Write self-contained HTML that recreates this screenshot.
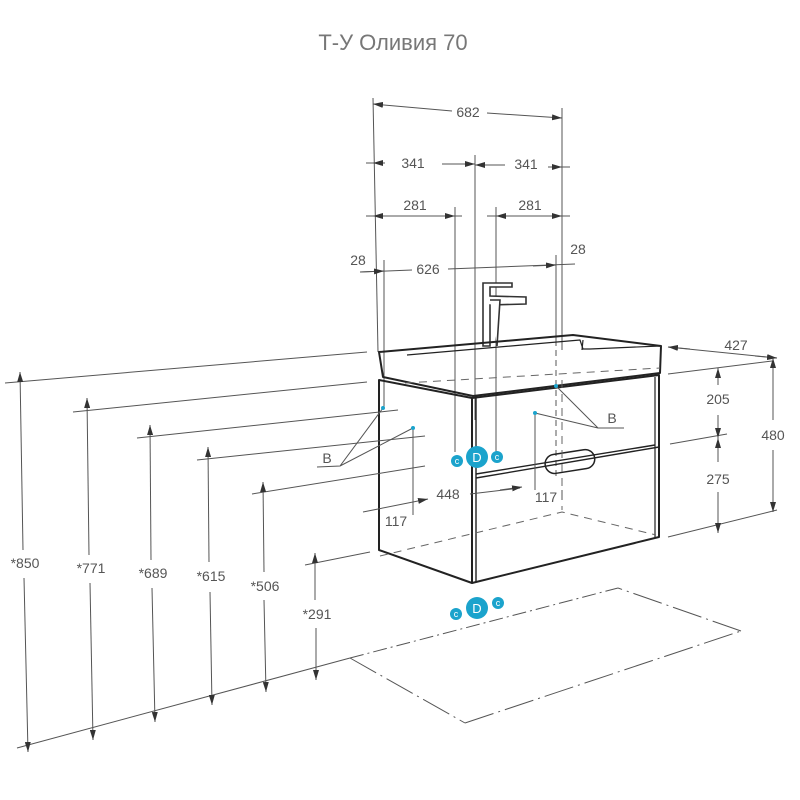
<!DOCTYPE html>
<html><head><meta charset="utf-8"><style>
html,body{margin:0;padding:0;background:#fff}
svg{display:block}
text{font-family:"Liberation Sans",sans-serif;fill:#555;font-size:14px;text-anchor:middle}
</style></head><body>
<svg width="800" height="800" viewBox="0 0 800 800" xmlns="http://www.w3.org/2000/svg">
<defs>
<marker id="a" viewBox="0 0 10 6" refX="10" refY="3" markerWidth="10" markerHeight="6" orient="auto-start-reverse" markerUnits="userSpaceOnUse"><path d="M0,0L10,3L0,6z" fill="#333"/></marker>
</defs>
<text x="393" y="50" style="font-size:22px;fill:#777">Т-У Оливия 70</text>

<g stroke="#555" stroke-width="1" fill="none">
<line x1="373" y1="98" x2="378" y2="352"/>
<line x1="562" y1="108" x2="562" y2="350"/>
<line x1="475" y1="155" x2="475" y2="420"/>
<line x1="455" y1="207" x2="455" y2="452"/>
<line x1="496" y1="207" x2="496" y2="452"/>
<line x1="384" y1="260" x2="384" y2="408"/>
<line x1="556" y1="255" x2="556" y2="340"/>
<line x1="556" y1="340" x2="556" y2="480" stroke-dasharray="6,4"/>
<line x1="373" y1="104" x2="452" y2="111" marker-start="url(#a)"/>
<line x1="487" y1="113" x2="562" y2="118" marker-end="url(#a)"/>
<line x1="366" y1="163" x2="385" y2="163"/>
<line x1="373" y1="163" x2="385" y2="163" marker-start="url(#a)"/>
<line x1="442" y1="164" x2="475" y2="164" marker-end="url(#a)"/>
<line x1="475" y1="165" x2="505" y2="165" marker-start="url(#a)"/>
<line x1="548" y1="167" x2="570" y2="167"/>
<line x1="548" y1="167" x2="562" y2="167" marker-end="url(#a)"/>
<line x1="366" y1="216" x2="462" y2="216"/>
<line x1="373" y1="216" x2="395" y2="216" marker-start="url(#a)"/>
<line x1="430" y1="216" x2="455" y2="216" marker-end="url(#a)"/>
<line x1="487" y1="216" x2="570" y2="216"/>
<line x1="496" y1="216" x2="515" y2="216" marker-start="url(#a)"/>
<line x1="540" y1="216" x2="562" y2="216" marker-end="url(#a)"/>
<line x1="360" y1="272" x2="412" y2="270"/>
<line x1="360" y1="272" x2="384" y2="271" marker-end="url(#a)"/>
<line x1="448" y1="269" x2="575" y2="264"/>
<line x1="533" y1="266" x2="556" y2="265" marker-end="url(#a)"/>
</g>
<text x="468" y="117">682</text>
<text x="413" y="168">341</text>
<text x="526" y="169">341</text>
<text x="415" y="210">281</text>
<text x="530" y="210">281</text>
<text x="358" y="265">28</text>
<text x="428" y="274">626</text>
<text x="578" y="254">28</text>

<g stroke="#333" stroke-width="1.6" fill="#fff">
<path d="M483,346 L483,283 L512,283 L512,287 L490,287 L490,296 L526,297 L526,304 L490,305 L490,346 Z"/>
<path d="M490,300 L500,300 L497,346"/>
</g>

<g stroke="#222" stroke-width="2" fill="none" stroke-linejoin="round">
<path d="M379,352 L573,335 L661,346 L660,373 L473,396 L383,377 Z"/>
<path d="M407,355 L580,340 L583,349 L590,349 L660,346" stroke-width="1.2"/>
<path d="M583,340 L582,350" stroke-width="1.2"/>
<path d="M379,380 L472,398 L472,583 L379,550 Z"/>
<path d="M472,398 L659,375 L659,537 L472,583"/>
<line x1="476" y1="398" x2="476" y2="582" stroke-width="1.4"/>
<line x1="655" y1="377" x2="655" y2="537" stroke-width="1.2"/>
<path d="M476,478 L659,447 M476,474 L655,445" stroke-width="1.4"/>
<rect x="545" y="452" width="50" height="19" rx="9.5" transform="rotate(-9 570 462)" stroke-width="1.5"/>
</g>
<g stroke="#666" stroke-width="1" fill="none" stroke-dasharray="8,6">
<path d="M380,556 L562,512 L656,535"/>
<path d="M405,383 L660,368"/>
<line x1="562" y1="380" x2="562" y2="510"/>
</g>

<g stroke="#555" stroke-width="1" fill="none">
<line x1="668" y1="347" x2="777" y2="358"/>
<line x1="668" y1="347" x2="690" y2="349" marker-start="url(#a)"/>
<line x1="755" y1="356" x2="777" y2="358" marker-end="url(#a)"/>
<line x1="668" y1="374" x2="772" y2="361"/>
<line x1="670" y1="444" x2="727" y2="434"/>
<line x1="668" y1="537" x2="777" y2="510"/>
<line x1="773" y1="358" x2="773" y2="420" marker-start="url(#a)"/>
<line x1="773" y1="450" x2="773" y2="512" marker-end="url(#a)"/>
<line x1="718" y1="368" x2="718" y2="385" marker-start="url(#a)"/>
<line x1="718" y1="415" x2="718" y2="438" marker-end="url(#a)"/>
<line x1="718" y1="438" x2="718" y2="462" marker-start="url(#a)"/>
<line x1="718" y1="492" x2="718" y2="533" marker-end="url(#a)"/>
</g>
<text x="736" y="350">427</text>
<text x="718" y="404">205</text>
<text x="773" y="440">480</text>
<text x="718" y="484">275</text>

<g stroke="#555" stroke-width="1" fill="none">
<line x1="5" y1="383" x2="367" y2="352"/>
<line x1="73" y1="412" x2="367" y2="382"/>
<line x1="137" y1="438" x2="398" y2="410"/>
<line x1="197" y1="460" x2="425" y2="436"/>
<line x1="252" y1="494" x2="425" y2="466"/>
<line x1="305" y1="565" x2="370" y2="552"/>
<line x1="17" y1="748" x2="350" y2="658"/>
<line x1="350" y1="658" x2="618" y2="588" stroke-dasharray="14,4,2,4"/>
<line x1="350" y1="658" x2="465" y2="723" stroke-dasharray="30,5,2,5"/>
<line x1="465" y1="723" x2="741" y2="631" stroke-dasharray="30,5,2,5"/>
<line x1="741" y1="631" x2="618" y2="588" stroke-dasharray="30,5,2,5"/>
<line x1="20" y1="372" x2="23" y2="550" marker-start="url(#a)"/>
<line x1="24" y1="578" x2="28" y2="752" marker-end="url(#a)"/>
<line x1="87" y1="398" x2="89" y2="555" marker-start="url(#a)"/>
<line x1="90" y1="583" x2="93" y2="740" marker-end="url(#a)"/>
<line x1="150" y1="425" x2="151" y2="560" marker-start="url(#a)"/>
<line x1="152" y1="588" x2="155" y2="722" marker-end="url(#a)"/>
<line x1="208" y1="447" x2="209" y2="562" marker-start="url(#a)"/>
<line x1="210" y1="592" x2="212" y2="705" marker-end="url(#a)"/>
<line x1="263" y1="482" x2="264" y2="572" marker-start="url(#a)"/>
<line x1="264" y1="600" x2="266" y2="692" marker-end="url(#a)"/>
<line x1="315" y1="553" x2="315" y2="600" marker-start="url(#a)"/>
<line x1="316" y1="628" x2="316" y2="680" marker-end="url(#a)"/>
<line x1="363" y1="512" x2="428" y2="499" marker-end="url(#a)"/>
<line x1="413" y1="430" x2="413" y2="515"/>
<line x1="535" y1="415" x2="535" y2="490"/>
<line x1="562" y1="490" x2="562" y2="500"/>
<line x1="470" y1="494" x2="520" y2="488"/>
<line x1="500" y1="490" x2="522" y2="487" marker-end="url(#a)"/>
<path d="M317,467 L340,466 L383,408 M340,466 L413,428"/>
<path d="M624,428 L598,428 L556,386 M598,428 L535,413"/>
</g>
<text x="25" y="568">*850</text>
<text x="91" y="573">*771</text>
<text x="153" y="578">*689</text>
<text x="211" y="581">*615</text>
<text x="265" y="591">*506</text>
<text x="317" y="619">*291</text>
<text x="448" y="499">448</text>
<text x="396" y="526">117</text>
<text x="546" y="502">117</text>
<text x="327" y="463">B</text>
<text x="612" y="423">B</text>

<g fill="#1ba3cc">
<circle cx="383" cy="408" r="2"/><circle cx="413" cy="428" r="2"/>
<circle cx="556" cy="386" r="2"/><circle cx="535" cy="413" r="2"/>
<circle cx="457" cy="461" r="6"/><circle cx="477" cy="457" r="11"/><circle cx="497" cy="457" r="6"/>
<circle cx="456" cy="614" r="6"/><circle cx="477" cy="608" r="11"/><circle cx="498" cy="603" r="6"/>
</g>
<text x="457" y="464" style="fill:#fff;font-size:9px">c</text>
<text x="497" y="460" style="fill:#fff;font-size:9px">c</text>
<text x="477" y="462" style="fill:#fff;font-size:13px">D</text>
<text x="456" y="617" style="fill:#fff;font-size:9px">c</text>
<text x="498" y="606" style="fill:#fff;font-size:9px">c</text>
<text x="477" y="613" style="fill:#fff;font-size:13px">D</text>
</svg>
</body></html>
